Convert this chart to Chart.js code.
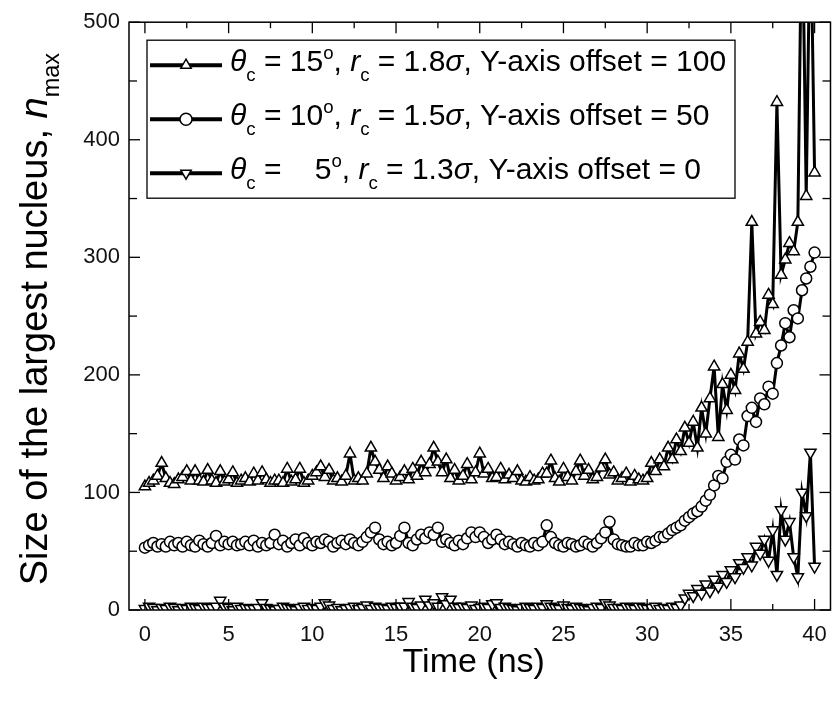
<!DOCTYPE html>
<html>
<head>
<meta charset="utf-8">
<script src="https://cdn.jsdelivr.net/npm/chart.js@4.4.1/dist/chart.umd.min.js"></script>
<style>
  body { margin: 0; background: #fff; }
  canvas { display: block; }
</style>
</head>
<body>
<canvas id="nucleusChart" width="839" height="707"></canvas>
<script>
// time axis (ns), one sample every 0.25 ns
const times = [
  0, 0.25, 0.5, 0.75, 1, 1.25, 1.5, 1.75, 2, 2.25, 2.5, 2.75, 3, 3.25, 3.5, 3.75,
  4, 4.25, 4.5, 4.75, 5, 5.25, 5.5, 5.75, 6, 6.25, 6.5, 6.75, 7, 7.25, 7.5, 7.75,
  8, 8.25, 8.5, 8.75, 9, 9.25, 9.5, 9.75, 10, 10.25, 10.5, 10.75, 11, 11.25, 11.5, 11.75,
  12, 12.25, 12.5, 12.75, 13, 13.25, 13.5, 13.75, 14, 14.25, 14.5, 14.75, 15, 15.25, 15.5, 15.75,
  16, 16.25, 16.5, 16.75, 17, 17.25, 17.5, 17.75, 18, 18.25, 18.5, 18.75, 19, 19.25, 19.5, 19.75,
  20, 20.25, 20.5, 20.75, 21, 21.25, 21.5, 21.75, 22, 22.25, 22.5, 22.75, 23, 23.25, 23.5, 23.75,
  24, 24.25, 24.5, 24.75, 25, 25.25, 25.5, 25.75, 26, 26.25, 26.5, 26.75, 27, 27.25, 27.5, 27.75,
  28, 28.25, 28.5, 28.75, 29, 29.25, 29.5, 29.75, 30, 30.25, 30.5, 30.75, 31, 31.25, 31.5, 31.75,
  32, 32.25, 32.5, 32.75, 33, 33.25, 33.5, 33.75, 34, 34.25, 34.5, 34.75, 35, 35.25, 35.5, 35.75,
  36, 36.25, 36.5, 36.75, 37, 37.25, 37.5, 37.75, 38, 38.25, 38.5, 38.75, 39, 39.25, 39.5, 39.75,
  40
];

// theta_c = 15, r_c = 1.8 sigma (offset +100)
const nmax15 = [
  105, 108, 110, 114, 125, 112, 108, 107, 111, 113, 118, 110, 118, 110, 109, 119,
  110, 108, 118, 109, 111, 117, 108, 110, 112, 109, 116, 110, 117, 111, 108, 110,
  110, 108, 120, 109, 111, 120, 108, 110, 114, 117, 122, 113, 119, 110, 112, 109,
  114, 133, 110, 112, 110, 116, 138, 126, 119, 112, 122, 116, 110, 113, 118, 111,
  120, 114, 126, 117, 124, 138, 126, 117, 128, 112, 119, 110, 114, 124, 111, 117,
  133, 116, 120, 112, 113, 120, 111, 115, 112, 118, 110, 109, 113, 110, 111, 116,
  116, 127, 112, 109, 120, 113, 110, 118, 127, 114, 119, 111, 113, 121, 128, 115,
  117, 110, 112, 116, 109, 114, 111, 110, 112, 125, 118, 128, 122, 138, 128, 145,
  135, 155, 142, 160, 138, 172, 150, 180, 207, 147, 192, 170, 200, 187, 218, 205,
  228, 330, 235, 245, 238, 268, 260, 432, 285, 298, 312, 305, 330, 610, 352, 600,
  372
];

// theta_c = 10, r_c = 1.5 sigma (offset +50)
const nmax10 = [
  53, 55, 57, 54, 56, 54, 58, 55, 57, 54, 58, 55, 54, 59, 56, 54,
  57, 63, 55, 58, 56, 58, 55, 56, 58, 55, 59, 54, 57, 55, 57, 64,
  56, 59, 54, 57, 60, 55, 61, 57, 55, 58, 57, 60, 58, 54, 57, 59,
  56, 60, 57, 55, 58, 62, 66, 70, 60, 56, 58, 55, 57, 63, 70, 57,
  55, 60, 64, 61, 66, 64, 70, 58, 60, 57, 55, 59, 56, 61, 66, 62,
  66, 62, 57, 60, 64, 60, 56, 58, 56, 54, 57, 55, 54, 57, 55, 58,
  72, 62, 57, 55, 54, 57, 56, 54, 55, 58, 56, 54, 57, 61, 66, 75,
  60, 56, 55, 54, 54, 57, 55, 55, 58, 57, 59, 62, 62, 65, 68, 70,
  72, 76, 79, 82, 84, 88, 93, 98, 106, 114, 112, 126, 132, 128, 145, 140,
  165, 172, 160, 180, 175, 190, 184, 210, 225, 244, 232, 255, 248, 272, 282, 292,
  304
];

// theta_c = 5, r_c = 1.3 sigma (no offset)
const nmax5 = [
  1, 3, 2, 0, 2, 1, 3, 2, 0, 2, 1, 3, 2, 1, 3, 2,
  2, 3, 8, 3, 2, 0, 3, 1, 2, 1, 1, 2, 6, 2, 1, 0,
  1, 3, 2, 1, 0, 2, 3, 1, 2, 1, 3, 6, 4, 1, 2, 0,
  1, 2, 3, 1, 2, 4, 1, 3, 2, 2, 1, 3, 2, 3, 3, 7,
  3, 2, 4, 9, 4, 6, 3, 11, 5, 9, 3, 2, 3, 2, 4, 1,
  2, 3, 2, 5, 6, 2, 3, 2, 1, 0, 2, 3, 2, 1, 3, 2,
  5, 3, 2, 1, 4, 2, 1, 3, 2, 1, 0, 2, 3, 2, 6, 4,
  2, 2, 1, 3, 2, 1, 3, 2, 1, 2, 3, 1, 2, 1, 3, 2,
  4, 10, 14, 12, 18, 14, 22, 16, 26, 20, 30, 24, 34, 28, 40, 36,
  45, 38, 54, 48, 60, 42, 68, 30, 85, 60, 75, 45, 28, 100, 80, 134,
  37
];

const xTicks = [0, 5, 10, 15, 20, 25, 30, 35, 40];
const xMinorTicks = [2.5, 7.5, 12.5, 17.5, 22.5, 27.5, 32.5, 37.5];
const yTicks = [0, 100, 200, 300, 400, 500];
const yMinorTicks = [50, 150, 250, 350, 450];

const FONT = '"Liberation Sans", Arial, sans-serif';

function toPoints(values) {
    return times.map((t, i) => ({ x: t, y: values[i] }));
}

function drawRich(ctx, x, y, parts, size) {
    let cx = x;
    parts.forEach((p) => {
        const s = (p.sub || p.sup) ? size * 0.62 : size;
        ctx.font = (p.it ? 'italic ' : '') + s + 'px ' + FONT;
        let dy = 0;
        if (p.sub) dy = size * 0.32;
        if (p.sup) dy = -size * 0.42;
        ctx.fillText(p.t, cx, y + dy);
        cx += ctx.measureText(p.t).width;
    });
}

const legendRows = [
    {
        style: 'triangle', rotation: 0,
        parts: [{ t: 'θ', it: true }, { t: 'c', sub: true }, { t: ' = 15' }, { t: 'o', sup: true },
                { t: ', ' }, { t: 'r', it: true }, { t: 'c', sub: true }, { t: ' = 1.8' },
                { t: 'σ', it: true }, { t: ', Y-axis offset = 100' }]
    },
    {
        style: 'circle', rotation: 0,
        parts: [{ t: 'θ', it: true }, { t: 'c', sub: true }, { t: ' = 10' }, { t: 'o', sup: true },
                { t: ', ' }, { t: 'r', it: true }, { t: 'c', sub: true }, { t: ' = 1.5' },
                { t: 'σ', it: true }, { t: ', Y-axis offset = 50' }]
    },
    {
        style: 'triangle', rotation: 180,
        parts: [{ t: 'θ', it: true }, { t: 'c', sub: true }, { t: ' =    5' }, { t: 'o', sup: true },
                { t: ', ' }, { t: 'r', it: true }, { t: 'c', sub: true }, { t: ' = 1.3' },
                { t: 'σ', it: true }, { t: ', Y-axis offset = 0' }]
    }
];

const framePlugin = {
    id: 'frame',
    afterDatasetsDraw(chart) {
        const { ctx, chartArea: a, scales: { x, y } } = chart;
        ctx.save();
        ctx.strokeStyle = '#000';
        ctx.fillStyle = '#000';

        const line = (x1, y1, x2, y2) => {
            ctx.beginPath();
            ctx.moveTo(x1, y1);
            ctx.lineTo(x2, y2);
            ctx.stroke();
        };

        // ticks pointing inwards on all four sides
        ctx.lineWidth = 1.3;
        xTicks.forEach((v) => {
            const px = x.getPixelForValue(v);
            line(px, a.bottom, px, a.bottom - 11);
            line(px, a.top, px, a.top + 11);
        });
        xMinorTicks.forEach((v) => {
            const px = x.getPixelForValue(v);
            line(px, a.bottom, px, a.bottom - 6);
            line(px, a.top, px, a.top + 6);
        });
        yTicks.forEach((v) => {
            const py = y.getPixelForValue(v);
            line(a.left, py, a.left + 11, py);
            line(a.right, py, a.right - 11, py);
        });
        yMinorTicks.forEach((v) => {
            const py = y.getPixelForValue(v);
            line(a.left, py, a.left + 8, py);
            line(a.right, py, a.right - 8, py);
        });

        ctx.lineWidth = 1.5;
        ctx.strokeRect(a.left, a.top, a.right - a.left, a.bottom - a.top);

        // legend box
        const lx = a.left + 18, ly = a.top + 18, lw = 588, lh = 158;
        ctx.fillStyle = '#fff';
        ctx.fillRect(lx, ly, lw, lh);
        ctx.lineWidth = 1.3;
        ctx.strokeRect(lx, ly, lw, lh);
        legendRows.forEach((row, i) => {
            const ry = ly + 25 + i * 54;
            ctx.strokeStyle = '#000';
            ctx.lineWidth = 4;
            line(lx + 3, ry, lx + 75, ry);
            ctx.fillStyle = '#fff';
            ctx.lineWidth = 1.5;
            Chart.helpers.drawPoint(ctx, {
                pointStyle: row.style, radius: 6, rotation: row.rotation, borderWidth: 1.5
            }, lx + 39, ry);
            ctx.fillStyle = '#000';
            ctx.textAlign = 'left';
            ctx.textBaseline = 'alphabetic';
            drawRich(ctx, lx + 83, ry + 6, row.parts, 30);
        });

        // axis titles
        ctx.fillStyle = '#000';
        ctx.textAlign = 'center';
        ctx.textBaseline = 'alphabetic';
        ctx.font = '34px ' + FONT;
        ctx.fillText('Time (ns)', (a.left + a.right) / 2 - 6, a.bottom + 62);

        ctx.save();
        ctx.translate(47, (a.top + a.bottom) / 2 + 3);
        ctx.rotate(-Math.PI / 2);
        const yParts = [{ t: 'Size of the largest nucleus, ' }, { t: 'n', it: true }, { t: 'max', sub: true }];
        let w = 0;
        yParts.forEach((p) => {
            const s = p.sub ? 38 * 0.62 : 38;
            ctx.font = (p.it ? 'italic ' : '') + s + 'px ' + FONT;
            w += ctx.measureText(p.t).width;
        });
        ctx.textAlign = 'left';
        drawRich(ctx, -w / 2, 0, yParts, 38);
        ctx.restore();

        ctx.restore();
    }
};

function makeSet(label, values, style, rotation) {
    return {
        label: label,
        data: toPoints(values),
        borderColor: '#000',
        borderWidth: 3,
        backgroundColor: '#fff',
        pointStyle: style,
        pointRotation: rotation,
        pointRadius: style === 'circle' ? 5.5 : 6.5,
        pointBorderWidth: 1.5,
        pointBorderColor: '#000',
        pointBackgroundColor: '#fff',
        tension: 0,
        fill: false
    };
}

const ctx = document.getElementById('nucleusChart').getContext('2d');
new Chart(ctx, {
    type: 'line',
    data: {
        datasets: [
            makeSet('θc = 5°', nmax5, 'triangle', 180),
            makeSet('θc = 10°', nmax10, 'circle', 0),
            makeSet('θc = 15°', nmax15, 'triangle', 0)
        ]
    },
    options: {
        responsive: false,
        animation: false,
        devicePixelRatio: 1,
        layout: { padding: { top: 22, right: 1, left: 0, bottom: 0 } },
        plugins: {
            legend: { display: false },
            tooltip: { enabled: false }
        },
        scales: {
            x: {
                type: 'linear',
                min: -0.95,
                max: 40.95,
                afterBuildTicks: (s) => { s.ticks = xTicks.map((v) => ({ value: v })); },
                afterFit: (s) => { s.height = 97; },
                grid: { display: false, drawTicks: false },
                border: { display: false },
                ticks: {
                    padding: 12,
                    color: '#111',
                    font: { family: FONT, size: 22 },
                    maxRotation: 0
                }
            },
            y: {
                min: 0,
                max: 500,
                afterBuildTicks: (s) => { s.ticks = yTicks.map((v) => ({ value: v })); },
                afterFit: (s) => { s.width = 129; },
                grid: { display: false, drawTicks: false },
                border: { display: false },
                ticks: {
                    padding: 9,
                    color: '#111',
                    font: { family: FONT, size: 22 }
                }
            }
        }
    },
    plugins: [framePlugin]
});
</script>
</body>
</html>
